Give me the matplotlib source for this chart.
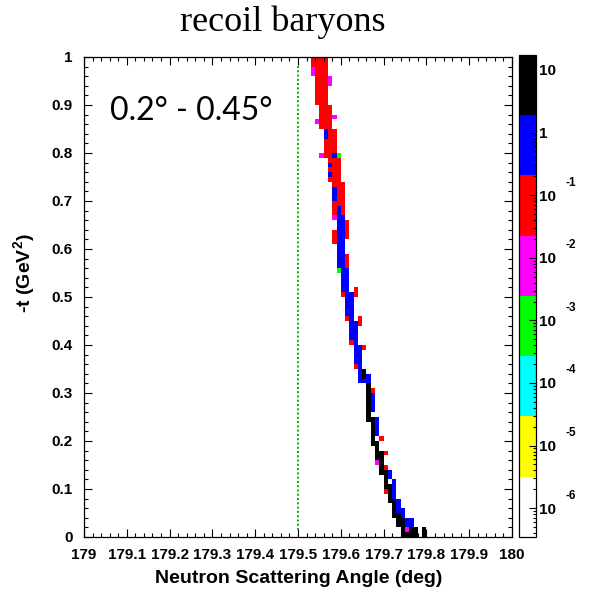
"""Recoil baryons: -t versus neutron scattering angle, ROOT-style COLZ histogram."""

import numpy as np
import matplotlib

matplotlib.use("Agg")
import matplotlib.pyplot as plt
from matplotlib.colors import ListedColormap, LogNorm
from matplotlib.ticker import FixedLocator, FuncFormatter, LogLocator, MultipleLocator, NullFormatter

# histogram binning: 100 x 100 bins
ANGLE_EDGES = np.linspace(179.0, 180.0, 101)
T_EDGES = np.linspace(0.0, 1.0, 101)

# typical bin content of each palette band
K, B, R, M, G = 3.0, 0.4, 0.04, 0.004, 0.0004

# filled cells as blocks, painted in order (later blocks overwrite earlier ones)
BLOCK_T = [
    # upper red part
    (0.98, 1.00), (0.90, 0.98), (0.85, 0.90), (0.79, 0.85), (0.74, 0.79), (0.67, 0.74),
    # middle blue part
    (0.56, 0.67), (0.51, 0.56), (0.45, 0.51), (0.40, 0.45), (0.35, 0.40), (0.32, 0.35),
    # edge cells
    (0.96, 0.98), (0.94, 0.96), (0.87, 0.88), (0.86, 0.87), (0.83, 0.85), (0.79, 0.80),
    (0.79, 0.80), (0.79, 0.80), (0.77, 0.78), (0.75, 0.76), (0.70, 0.73), (0.67, 0.69),
    (0.66, 0.67), (0.62, 0.66), (0.61, 0.64), (0.56, 0.59), (0.55, 0.56), (0.50, 0.52),
    (0.50, 0.51), (0.45, 0.46), (0.44, 0.46), (0.40, 0.41), (0.39, 0.40), (0.35, 0.36),
    # lower black part
    (0.33, 0.35), (0.32, 0.34), (0.24, 0.32), (0.26, 0.30), (0.30, 0.31), (0.19, 0.25),
    (0.21, 0.25), (0.20, 0.21), (0.16, 0.20), (0.17, 0.18), (0.13, 0.18), (0.15, 0.16),
    (0.14, 0.15), (0.10, 0.14), (0.12, 0.14), (0.09, 0.10), (0.08, 0.12), (0.07, 0.11),
    (0.04, 0.08), (0.05, 0.08), (0.02, 0.05), (0.04, 0.06), (0.00, 0.04), (0.02, 0.04),
    (0.00, 0.02), (0.01, 0.02), (0.00, 0.01), (0.00, 0.02),
]
BLOCK_ANGLE = [
    (179.53, 179.57), (179.54, 179.57), (179.55, 179.58), (179.56, 179.59), (179.57, 179.60), (179.58, 179.61),
    (179.59, 179.61), (179.60, 179.62), (179.61, 179.63), (179.62, 179.64), (179.63, 179.65), (179.64, 179.66),
    (179.53, 179.54), (179.57, 179.58), (179.58, 179.59), (179.54, 179.55), (179.56, 179.57), (179.55, 179.56),
    (179.59, 179.60), (179.58, 179.59), (179.57, 179.58), (179.57, 179.58), (179.58, 179.59), (179.59, 179.60),
    (179.58, 179.59), (179.61, 179.62), (179.58, 179.59), (179.61, 179.62), (179.59, 179.60), (179.63, 179.64),
    (179.60, 179.61), (179.61, 179.62), (179.64, 179.65), (179.62, 179.63), (179.65, 179.66), (179.63, 179.64),
    (179.65, 179.66), (179.66, 179.67), (179.66, 179.67), (179.67, 179.68), (179.67, 179.68), (179.67, 179.68),
    (179.68, 179.69), (179.69, 179.70), (179.68, 179.69), (179.70, 179.71), (179.69, 179.70), (179.68, 179.69),
    (179.70, 179.71), (179.70, 179.71), (179.71, 179.72), (179.70, 179.71), (179.72, 179.73), (179.71, 179.72),
    (179.72, 179.73), (179.73, 179.74), (179.73, 179.74), (179.74, 179.75), (179.74, 179.75), (179.75, 179.77),
    (179.76, 179.78), (179.75, 179.76), (179.75, 179.76), (179.79, 179.80),
]
BLOCK_CONTENT = [
    R, R, R, R, R, R,
    B, B, B, B, B, B,
    M, M, M, M, B, M,
    G, B, B, B, B, B,
    M, R, R, R, G, R,
    R, R, R, R, R, R,
    K, B, K, B, R, K,
    B, R, K, R, K, M,
    R, K, B, R, B, K,
    K, B, K, B, K, B,
    K, M, K, K,
]

CUT_ANGLE = 179.5
ANGLE_TICKS = [179.0, 179.1, 179.2, 179.3, 179.4, 179.5, 179.6, 179.7, 179.8, 179.9, 180.0]
T_TICKS = [0.0, 0.1, 0.2, 0.3, 0.4, 0.5, 0.6, 0.7, 0.8, 0.9, 1.0]
Z_MIN, Z_MAX = 10 ** -6.46, 10 ** 1.24
Z_DECADES = [-6, -5, -4, -3, -2, -1, 0, 1]
PALETTE = ["#ffffff", "#ffff00", "#00ffff", "#00ff00", "#ff00ff", "#ff0000", "#0000ff", "#000000"]


def _plain(value: float, _pos: int) -> str:
    return f"{value:g}"


def main() -> None:
    angle_centers = 0.5 * (ANGLE_EDGES[:-1] + ANGLE_EDGES[1:])
    t_centers = 0.5 * (T_EDGES[:-1] + T_EDGES[1:])
    counts = np.zeros((t_centers.size, angle_centers.size))
    for (t_lo, t_hi), (a_lo, a_hi), value in zip(BLOCK_T, BLOCK_ANGLE, BLOCK_CONTENT):
        rows = (t_centers > t_lo) & (t_centers < t_hi)
        cols = (angle_centers > a_lo) & (angle_centers < a_hi)
        counts[np.ix_(rows, cols)] = value
    counts = np.ma.masked_equal(counts, 0.0)

    plt.rcParams["font.family"] = ["Liberation Sans", "DejaVu Sans"]
    plt.rcParams["mathtext.fontset"] = "custom"
    plt.rcParams["mathtext.rm"] = "Liberation Sans"
    plt.rcParams["mathtext.bf"] = "Liberation Sans:bold"
    fig = plt.figure(figsize=(5.91, 5.91), dpi=100)
    ax = fig.add_axes([0.1421, 0.0914, 0.7242, 0.8122])
    cax = fig.add_axes([0.8782, 0.0914, 0.0288, 0.8156])

    cmap = ListedColormap(PALETTE)
    norm = LogNorm(vmin=Z_MIN, vmax=Z_MAX)
    mesh = ax.pcolormesh(ANGLE_EDGES, T_EDGES, counts, cmap=cmap, norm=norm)

    ax.plot([CUT_ANGLE, CUT_ANGLE], [0.015, 0.985], color="#00b400", linestyle=(0, (1, 1.2)), linewidth=1.4)

    ax.set_xlim(179.0, 180.0)
    ax.set_ylim(0.0, 1.0)
    ax.xaxis.set_major_locator(FixedLocator(ANGLE_TICKS))
    ax.yaxis.set_major_locator(FixedLocator(T_TICKS))
    ax.xaxis.set_minor_locator(MultipleLocator(0.02))
    ax.yaxis.set_minor_locator(MultipleLocator(0.02))
    ax.xaxis.set_major_formatter(FuncFormatter(_plain))
    ax.yaxis.set_major_formatter(FuncFormatter(_plain))
    ax.tick_params(which="both", direction="in", top=True, right=True, width=0.8)
    ax.tick_params(which="major", length=5.5)
    ax.tick_params(which="minor", length=2.8)
    ax.tick_params(axis="x", pad=8)
    ax.tick_params(axis="y", pad=8)
    for label in ax.get_xticklabels() + ax.get_yticklabels():
        label.set_fontsize(11)
        label.set_fontweight("bold")
    for spine in ax.spines.values():
        spine.set_linewidth(0.9)

    ax.set_xlabel("Neutron Scattering Angle (deg)", fontsize=14, fontweight="bold", va="center")
    ax.xaxis.set_label_coords(0.501, -0.087)
    ax.set_ylabel(r"-t (GeV$^{\mathbf{2}}$)", fontsize=14, fontweight="bold", va="center")
    ax.yaxis.set_label_coords(-0.138, 0.55)

    ax.text(0.061, 0.869, "0.2° - 0.45°", transform=ax.transAxes, fontsize=23,
            family=["Lato", "DejaVu Sans"], va="baseline", ha="left")
    fig.text(0.478, 1 - 31 / 591, "recoil baryons", fontsize=26,
             family=["Liberation Serif", "DejaVu Serif"], ha="center", va="baseline")

    cbar = fig.colorbar(mesh, cax=cax)
    cbar.outline.set_linewidth(0.9)
    cbar.set_ticks([10.0 ** k for k in Z_DECADES])
    cbar.set_ticklabels(["1" if k == 0 else "10" for k in Z_DECADES])
    cax.yaxis.set_minor_locator(LogLocator(base=10, subs=np.arange(2, 10)))
    cax.yaxis.set_minor_formatter(NullFormatter())
    cax.tick_params(which="both", direction="in", right=True, left=False, width=0.8)
    cax.tick_params(which="major", length=5, pad=2)
    cax.tick_params(which="minor", length=2.5)
    for label in cax.get_yticklabels():
        label.set_fontsize(11)
        label.set_fontweight("bold")
    for k in Z_DECADES:
        if k < 0:
            cax.annotate(str(k), xy=(1.0, 10.0 ** k), xycoords=cax.get_yaxis_transform(),
                         xytext=(25, 9), textcoords="offset points",
                         fontsize=8.5, fontweight="bold", ha="center", va="center")

    fig.savefig("out.png", dpi=100)
    plt.close(fig)


if __name__ == "__main__":
    main()
